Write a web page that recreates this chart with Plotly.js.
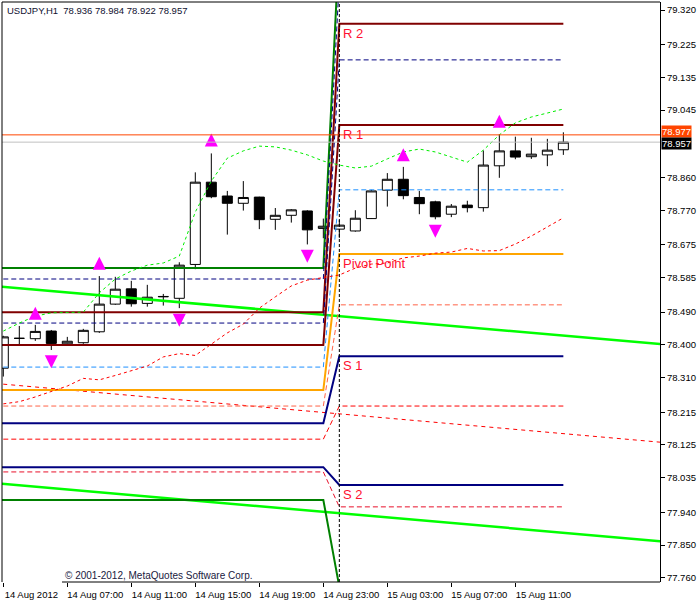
<!DOCTYPE html>
<html><head><meta charset="utf-8">
<script src="https://cdn.plot.ly/plotly-3.0.1.min.js"></script>
<style>html,body{margin:0;padding:0;background:#fff}#chart{width:700px;height:600px}</style>
</head><body><div id="chart"></div>
<script>
// ---- data (bar index 0 = 14 Aug 2012 03:00, H1 bars) ----
const bars  = [0,1,2,3,4,5,6,7,8,9,10,11,12,13,14,15,16,17,18,19,20,21,22,23,24,25,26,27,28,29,30,31,32,33,34,35];
const open  = [78.336,78.418,78.417,78.438,78.403,78.406,78.436,78.512,78.554,78.514,78.532,78.528,78.621,78.847,78.809,78.789,78.806,78.745,78.756,78.768,78.720,78.718,78.713,78.747,78.825,78.855,78.805,78.793,78.759,78.784,78.777,78.892,78.933,78.917,78.922,78.936];
const high  = [78.425,78.452,78.455,78.441,78.422,78.444,78.589,78.587,78.576,78.565,78.540,78.627,78.874,78.926,78.823,78.850,78.807,78.776,78.773,78.770,78.747,78.743,78.770,78.826,78.872,78.889,78.823,78.796,78.787,78.796,78.934,78.979,78.972,78.969,78.966,78.984];
const low   = [78.313,78.402,78.411,78.386,78.401,78.403,78.433,78.510,78.505,78.505,78.508,78.501,78.608,78.803,78.703,78.769,78.718,78.716,78.736,78.676,78.693,78.694,78.711,78.746,78.780,78.800,78.759,78.745,78.751,78.764,78.766,78.859,78.910,78.911,78.891,78.922];
const close = [78.422,78.418,78.437,78.404,78.410,78.440,78.512,78.553,78.513,78.531,78.533,78.619,78.847,78.807,78.789,78.805,78.744,78.756,78.771,78.716,78.726,78.729,78.748,78.823,78.855,78.810,78.788,78.752,78.781,78.777,78.894,78.933,78.916,78.924,78.935,78.957];

const upperBand = [78.438,78.460,78.479,78.488,78.489,78.490,78.543,78.581,78.603,78.619,78.625,78.644,78.765,78.850,78.913,78.933,78.946,78.944,78.935,78.922,78.905,78.894,78.886,78.891,78.911,78.930,78.938,78.930,78.916,78.902,78.935,78.977,79.010,79.026,79.037,79.048];
const lowerBand = [78.238,78.244,78.257,78.271,78.287,78.308,78.304,78.316,78.328,78.342,78.367,78.376,78.371,78.402,78.433,78.457,78.501,78.532,78.562,78.578,78.584,78.592,78.611,78.622,78.625,78.639,78.644,78.652,78.655,78.665,78.658,78.659,78.677,78.699,78.724,78.749];

const fractalUpBars = [2,6,13,25,31];
const fractalUpTips = [78.505,78.642,78.981,78.940,79.032];
const fractalDnBars = [3,11,19,27];
const fractalDnTips = [78.336,78.450,78.626,78.694];

// pivot levels: previous day (14 Aug) and new day (15 Aug, from bar 21)
const levelNames = ['R3','M5','R 2','M4','R 1','M3','Pivot Point','M2','S 1','M1','S 2','M0','S3'];
const prevLevels = [78.611,78.581,78.490,78.460,78.400,78.339,78.276,78.232,78.185,78.141,78.064,78.051,77.974];
const newLevels  = [79.510,79.400,79.282,79.183,79.004,78.826,78.650,78.510,78.369,78.232,78.015,77.955,77.735];
const levelBars  = [-1,20,21,35];
const labelledLevels = [2,4,6,8,10];

// trend channel (two bars: -1 and 42)
const channelBars  = [-1,42];
const channelUpper = [78.563,78.399];
const channelMid   = [78.296,78.129];
const channelLower = [78.022,77.857];

const askPrice = 78.977, bidPrice = 78.957;
const header = 'USDJPY,H1  78.936 78.984 78.922 78.957';
const copyright = '\u00a9 2001-2012, MetaQuotes Software Corp.';

const yTicks = [79.320,79.225,79.135,79.045,78.860,78.770,78.675,78.585,78.490,78.400,78.310,78.215,78.125,78.035,77.940,77.850,77.760];
const xTickBars = [0,4,8,12,16,20,24,28,32];
const xTickLabels = ['14 Aug 2012','14 Aug 07:00','14 Aug 11:00','14 Aug 15:00','14 Aug 19:00','14 Aug 23:00','15 Aug 03:00','15 Aug 07:00','15 Aug 11:00'];
const separatorBar = 21;

// ---- styles ----
const levelStyles = [
  {color:'#008000',width:2},
  {color:'#000080',width:1,dash:'5px,3px'},
  {color:'#800000',width:2},
  {color:'#000080',width:1,dash:'5px,3px'},
  {color:'#800000',width:2},
  {color:'#1e90ff',width:1,dash:'5px,3px'},
  {color:'#ffa500',width:2},
  {color:'#ff6347',width:1,dash:'5px,3px'},
  {color:'#000080',width:2},
  {color:'#ff0000',width:1,dash:'5px,3px'},
  {color:'#000080',width:2},
  {color:'#e8102a',width:1,dash:'5px,3px'},
  {color:'#008000',width:2}
];
const FONT = 'Liberation Sans, Arial, sans-serif';

const traces = [];
traces.push({
  type:'candlestick', x:bars, open:open, high:high, low:low, close:close,
  increasing:{line:{color:'#000',width:1},fillcolor:'#fff'},
  decreasing:{line:{color:'#000',width:1},fillcolor:'#000'},
  whiskerwidth:0, hoverinfo:'skip', showlegend:false
});
traces.push({type:'scatter',mode:'lines',x:channelBars,y:channelUpper,line:{color:'#00ff00',width:2.5},hoverinfo:'skip'});
traces.push({type:'scatter',mode:'lines',x:channelBars,y:channelLower,line:{color:'#00ff00',width:2.5},hoverinfo:'skip'});
traces.push({type:'scatter',mode:'lines',x:channelBars,y:channelMid,line:{color:'#ff0000',width:1,dash:'4px,4px'},hoverinfo:'skip'});
levelNames.forEach((n,k)=>{
  traces.push({type:'scatter',mode:'lines',x:levelBars,
    y:[prevLevels[k],prevLevels[k],newLevels[k],newLevels[k]],
    line:levelStyles[k],hoverinfo:'skip',name:n});
});
traces.push({type:'scatter',mode:'lines',x:bars,y:upperBand,line:{color:'#00ee00',width:1,dash:'3px,3px'},hoverinfo:'skip'});
traces.push({type:'scatter',mode:'lines',x:bars,y:lowerBand,line:{color:'#ff0000',width:1,dash:'3px,3px'},hoverinfo:'skip'});
traces.push({type:'scatter',mode:'markers',x:fractalUpBars,y:fractalUpTips,
  marker:{symbol:'arrow-up',size:13,color:'#ff00ff',line:{width:0}},hoverinfo:'skip'});
traces.push({type:'scatter',mode:'markers',x:fractalDnBars,y:fractalDnTips,
  marker:{symbol:'arrow-down',size:13,color:'#ff00ff',line:{width:0}},hoverinfo:'skip'});

const annotations = labelledLevels.map(k=>({
  x:separatorBar, y:newLevels[k], xref:'x', yref:'y', text:levelNames[k],
  xanchor:'left', yanchor:'top', xshift:2, yshift:0, showarrow:false,
  font:{family:FONT,size:13,color:'#ff1030'}
}));
annotations.push({xref:'paper',yref:'paper',x:0,y:1,xanchor:'left',yanchor:'top',xshift:3,yshift:-1,
  text:header,showarrow:false,font:{family:FONT,size:9.5,color:'#101030'}});
annotations.push({xref:'paper',yref:'paper',x:0.0925,y:0.012,xanchor:'left',yanchor:'middle',
  text:copyright,showarrow:false,font:{family:FONT,size:10,color:'#202040'}});
annotations.push({xref:'paper',yref:'y',x:1,y:askPrice,xanchor:'left',yanchor:'middle',xshift:1,yshift:3,
  text:askPrice.toFixed(3),showarrow:false,bgcolor:'#ff4500',borderpad:0,font:{family:FONT,size:9.5,color:'#fff'}});
annotations.push({xref:'paper',yref:'y',x:1,y:bidPrice,xanchor:'left',yanchor:'middle',xshift:1,yshift:-1,
  text:bidPrice.toFixed(3),showarrow:false,bgcolor:'#000',borderpad:0,font:{family:FONT,size:9.5,color:'#fff'}});

const shapes = [
  {type:'line',xref:'paper',x0:0,x1:1,yref:'y',y0:bidPrice,y1:bidPrice,line:{color:'#c0c0c0',width:1}},
  {type:'line',xref:'paper',x0:0,x1:1,yref:'y',y0:askPrice,y1:askPrice,line:{color:'#ff4500',width:1}},
  {type:'line',xref:'x',x0:separatorBar,x1:separatorBar,yref:'paper',y0:0,y1:1,line:{color:'#000',width:1,dash:'3px,2px'}},
  {type:'line',xref:'paper',x0:0,x1:1,yref:'paper',y0:1,y1:1,line:{color:'#000',width:1}},
  {type:'line',xref:'paper',x0:0,x1:0,yref:'paper',y0:0,y1:1,line:{color:'#000',width:1}},
  {type:'line',xref:'paper',x0:0.0912,x1:1,yref:'paper',y0:0,y1:0,line:{color:'#000',width:1}}
];

const layout = {
  width:700, height:600,
  margin:{l:2,r:40,t:2,b:18,pad:0},
  paper_bgcolor:'#fff', plot_bgcolor:'#fff',
  showlegend:false,
  boxgap:0.375, boxgroupgap:0,
  xaxis:{range:[-0.081,41.04],tickvals:xTickBars,ticktext:xTickLabels,
    ticks:'outside',ticklen:4,tickcolor:'#000',showgrid:false,zeroline:false,showline:false,
    tickangle:0, ticklabelshift:28, ticklabelstandoff:0,
    tickfont:{family:FONT,size:9.5,color:'#000'},rangeslider:{visible:false},fixedrange:true},
  yaxis:{range:[77.7486,79.342],side:'right',tickvals:yTicks,ticktext:yTicks.map(v=>v.toFixed(3)),
    ticks:'outside',ticklen:4,tickcolor:'#000',showgrid:false,zeroline:false,
    showline:true,linecolor:'#000',linewidth:1,
    tickfont:{family:FONT,size:9.5,color:'#000'},fixedrange:true},
  shapes:shapes, annotations:annotations
};
Plotly.newPlot('chart',traces,layout,{staticPlot:true,displayModeBar:false});
</script></body></html>
